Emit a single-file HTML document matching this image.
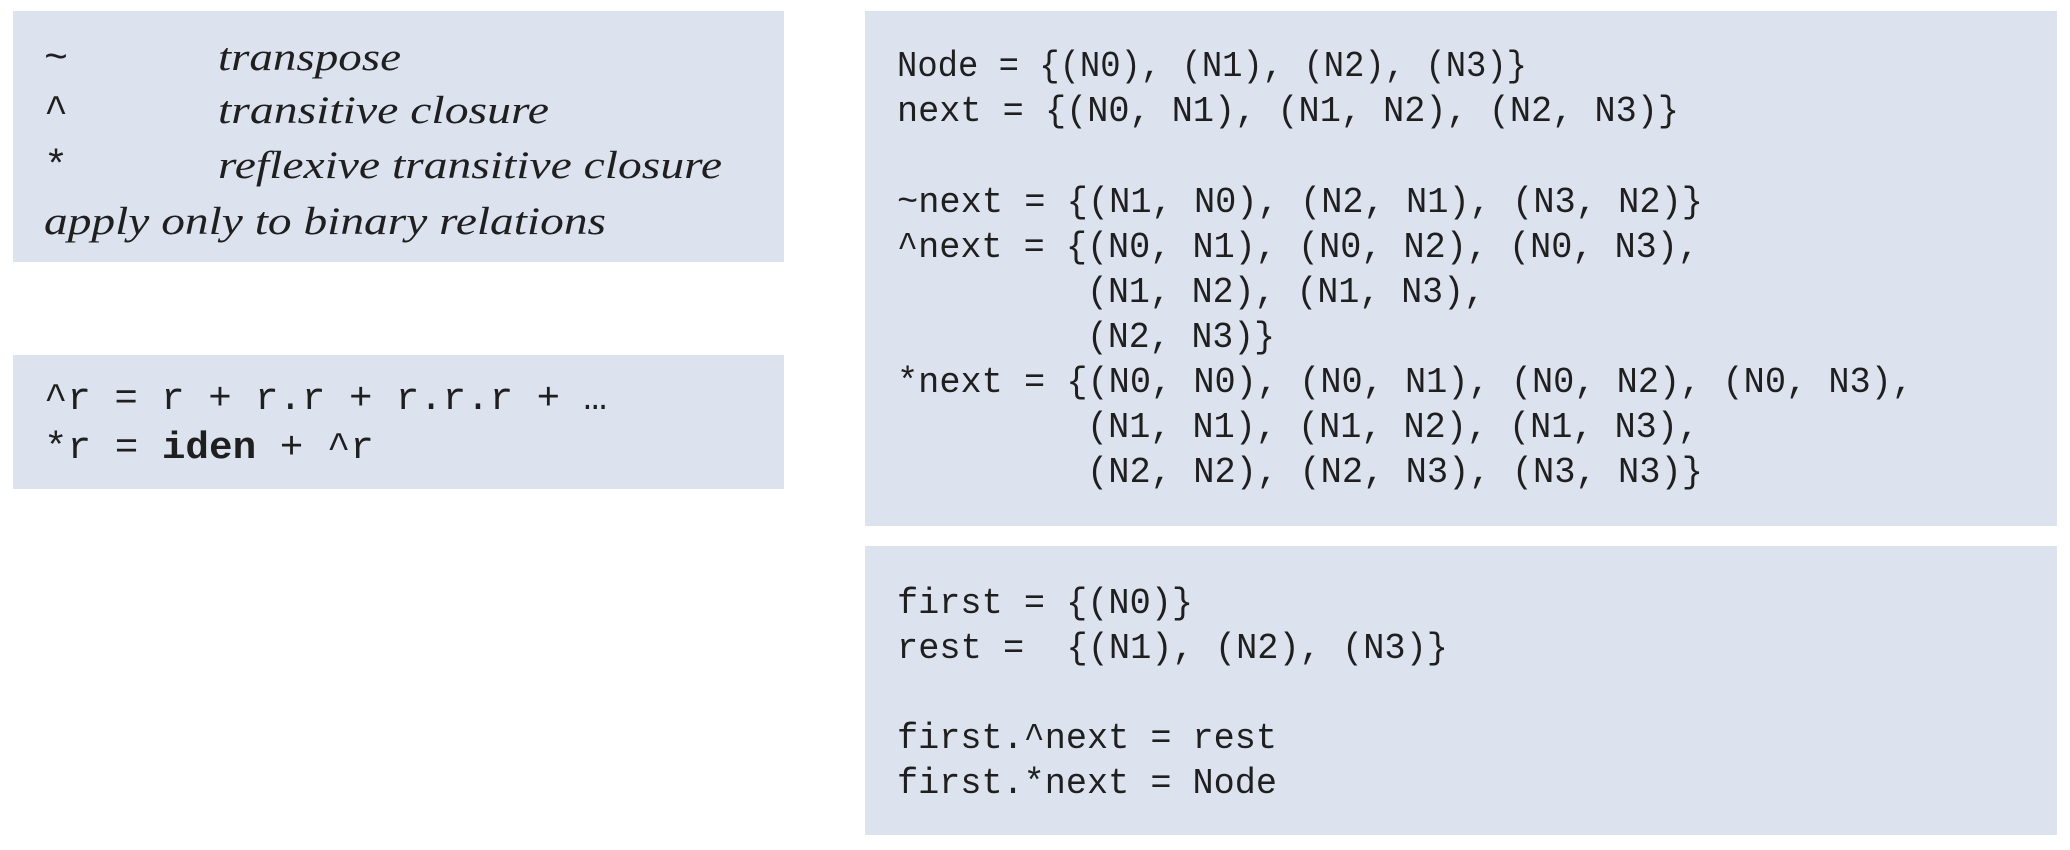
<!DOCTYPE html>
<html><head><meta charset="utf-8"><style>
html,body{margin:0;padding:0;background:#fff;width:2070px;height:850px;overflow:hidden}
svg{display:block}
.s{font-family:"Liberation Serif",serif;font-style:italic;font-size:39px;fill:#1f1f1f}
.m{font-family:"Liberation Mono",monospace;font-size:36px;fill:#1f1f1f}
</style></head><body>
<svg width="2070" height="850" xmlns="http://www.w3.org/2000/svg">
<g fill="#dde2ef">
<rect x="13" y="11" width="771" height="251"/>
<rect x="13" y="355" width="771" height="134"/>
<rect x="865" y="11" width="1192" height="515"/>
<rect x="865" y="546" width="1192" height="289"/>
</g>
<g class="m" dominant-baseline="central" style="font-size:40px">
<text x="44" y="60">~</text>
<text x="44" y="113">^</text>
<text x="44" y="168">*</text>
</g>
<g class="s">
<text x="218" y="70" textLength="183" lengthAdjust="spacingAndGlyphs">transpose</text>
<text x="218" y="123" textLength="331" lengthAdjust="spacingAndGlyphs">transitive closure</text>
<text x="218" y="178" textLength="504" lengthAdjust="spacingAndGlyphs">reflexive transitive closure</text>
<text x="44" y="234" textLength="562" lengthAdjust="spacingAndGlyphs">apply only to binary relations</text>
</g>
<g class="m" style="font-size:38px">
<text x="44" y="409" textLength="563" lengthAdjust="spacingAndGlyphs" xml:space="preserve">^r = r + r.r + r.r.r + …</text>
<text x="44" y="458" xml:space="preserve" textLength="330" lengthAdjust="spacingAndGlyphs">*r = <tspan font-weight="bold">iden</tspan> + ^r</text>
</g>
<g class="m">
<text x="897" y="76" textLength="630" lengthAdjust="spacingAndGlyphs">Node = {(N0), (N1), (N2), (N3)}</text>
<text x="897" y="121" textLength="782" lengthAdjust="spacingAndGlyphs">next = {(N0, N1), (N1, N2), (N2, N3)}</text>
<text x="897" y="212" textLength="806" lengthAdjust="spacingAndGlyphs">~next = {(N1, N0), (N2, N1), (N3, N2)}</text>
<text x="897" y="257" textLength="802" lengthAdjust="spacingAndGlyphs">^next = {(N0, N1), (N0, N2), (N0, N3),</text>
<text x="1087" y="302" textLength="398" lengthAdjust="spacingAndGlyphs">(N1, N2), (N1, N3),</text>
<text x="1087" y="347" textLength="188" lengthAdjust="spacingAndGlyphs">(N2, N3)}</text>
<text x="897" y="392" textLength="1016" lengthAdjust="spacingAndGlyphs">*next = {(N0, N0), (N0, N1), (N0, N2), (N0, N3),</text>
<text x="1087" y="437" textLength="612" lengthAdjust="spacingAndGlyphs">(N1, N1), (N1, N2), (N1, N3),</text>
<text x="1087" y="482" textLength="616" lengthAdjust="spacingAndGlyphs">(N2, N2), (N2, N3), (N3, N3)}</text>
<text x="897" y="613" textLength="296" lengthAdjust="spacingAndGlyphs">first = {(N0)}</text>
<text x="897" y="658" textLength="551" lengthAdjust="spacingAndGlyphs" xml:space="preserve">rest =  {(N1), (N2), (N3)}</text>
<text x="897" y="748" textLength="380" lengthAdjust="spacingAndGlyphs">first.^next = rest</text>
<text x="897" y="793" textLength="380" lengthAdjust="spacingAndGlyphs">first.*next = Node</text>
</g>
</svg>
</body></html>
